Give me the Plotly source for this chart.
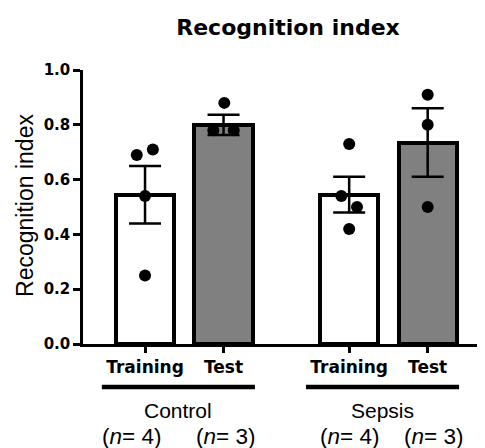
import plotly.graph_objects as go

# ---- data ----
groups = ["Control", "Sepsis"]
conditions = ["Training", "Test"]
means = [0.545, 0.80, 0.545, 0.735]
sems = [0.105, 0.037, 0.065, 0.125]
points = [
    [0.69, 0.71, 0.54, 0.25],
    [0.88, 0.78, 0.78],
    [0.73, 0.54, 0.50, 0.42],
    [0.91, 0.80, 0.50],
]
jitter = [
    [-0.105, 0.10, 0.0, 0.0],
    [0.01, -0.13, 0.13],
    [0.0, -0.10, 0.10, 0.0],
    [0.0, 0.0, 0.0],
]
fills = ["white", "#808080", "white", "#808080"]
yticks = [0.0, 0.2, 0.4, 0.6, 0.8, 1.0]

FONT = "Liberation Sans, Arial, sans-serif"
BOLD = "DejaVu Sans, sans-serif"
GROUP_GAP = 2.6
xpos = []
for gi, g in enumerate(groups):
    for ci, c in enumerate(conditions):
        xpos.append(gi * GROUP_GAP + ci)

fig = go.Figure()
fig.add_trace(go.Bar(
    x=xpos, y=means, width=0.74,
    marker=dict(color=fills, line=dict(color="black", width=4)),
    error_y=dict(type="data", array=sems, visible=True, color="black",
                 thickness=2.5, width=16),
    showlegend=False, hoverinfo="skip",
))
for i, pts in enumerate(points):
    fig.add_trace(go.Scatter(
        x=[xpos[i] + j for j in jitter[i]], y=pts, mode="markers",
        marker=dict(color="black", size=12),
        showlegend=False, cliponaxis=False,
    ))

ticktext = [c for g in groups for c in conditions]

W, H = 477, 440
fig.update_layout(
    width=W, height=H,
    margin=dict(l=75, r=0, t=62, b=104, autoexpand=False),
    plot_bgcolor="white", paper_bgcolor="white",
    font=dict(family=FONT, color="black"),
    title=dict(text="<b>Recognition index</b>", x=280 / W, xanchor="center",
               y=1 - 19 / H, yanchor="middle",
               font=dict(size=22, family=BOLD, color="black")),
    bargap=0,
)
fig.update_xaxes(
    range=[-0.79, 4.33], showline=True, linecolor="black", linewidth=2.5,
    tickvals=xpos, ticktext=ticktext, ticks="outside", ticklen=6, tickwidth=2.5,
    tickangle=0, automargin=False, ticklabelstandoff=0,
    tickcolor="black", tickfont=dict(size=17, family=BOLD, weight="bold"),
    showgrid=False, zeroline=False,
)
fig.update_yaxes(
    range=[0, 1.0], showline=True, linecolor="black", linewidth=2.5,
    tickvals=yticks, tickformat=".1f", ticks="outside", ticklen=7, tickwidth=2.5,
    automargin=False,
    tickcolor="black", tickfont=dict(size=15, family=BOLD, weight="bold"),
    showgrid=False, zeroline=False,
)

# y-axis title
fig.add_annotation(text="Recognition index", textangle=-90, xref="paper", yref="paper",
                   x=(25 - 83) / 402, y=0.504, xanchor="center", yanchor="middle",
                   showarrow=False, font=dict(size=23, family=FONT))

# group underlines and labels
n_x = [-0.17, 1.03, 0.007, 1.077]
for gi, g in enumerate(groups):
    base = gi * GROUP_GAP
    fig.add_shape(type="line", xref="x", yref="paper", x0=base - 0.55, x1=base + 1.40,
                  y0=-0.157, y1=-0.157, line=dict(color="black", width=4.5))
    fig.add_annotation(text=g, xref="x", yref="paper", x=base + 0.42, y=-0.2445,
                       xanchor="center", yanchor="middle", showarrow=False,
                       font=dict(size=21, family=FONT))
    for ci in range(len(conditions)):
        k = gi * len(conditions) + ci
        fig.add_annotation(text=f"(<i>n</i>= {len(points[k])})", xref="x", yref="paper",
                           x=base + n_x[k], y=-0.336, xanchor="center", yanchor="middle",
                           showarrow=False, font=dict(size=22.5, family=FONT))

fig.write_html("out.html")
